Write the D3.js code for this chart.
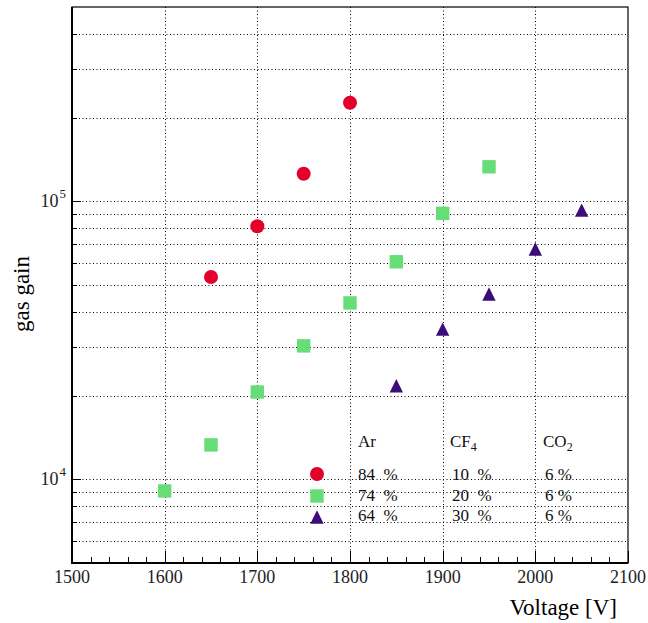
<!DOCTYPE html>
<html>
<head>
<meta charset="utf-8">
<script src="https://cdn.jsdelivr.net/npm/d3@7"></script>
<style>
  body { margin: 0; background: #fff; }
  svg { display: block; font-family: "Liberation Serif", "DejaVu Serif", serif; }
</style>
</head>
<body>
<svg id="chart" width="648" height="623"></svg>
<script>
// data
const arVoltage = [1650, 1700, 1750, 1800];
const arGain = [53400, 81300, 125700, 226200];

const cf20Voltage = [1600, 1650, 1700, 1750, 1800, 1850, 1900, 1950];
const cf20Gain = [9080, 13300, 20600, 30200, 43100, 60600, 90500, 133100];

const cf30Voltage = [1850, 1900, 1950, 2000, 2050];
const cf30Gain = [21700, 34700, 46400, 67400, 93000];

const legendHeaders = ["Ar", "CF", "CO"];
const legendSubs = ["", "4", "2"];
const legendRows = [
  ["84  %", "10  %", "6 %"],
  ["74  %", "20  %", "6 %"],
  ["64  %", "30  %", "6 %"],
];

const xTicks = [1500, 1600, 1700, 1800, 1900, 2000, 2100];
const yLabelTicks = [1e4, 1e5];
const yLabelExp = ["4", "5"];

const colors = { red: "#e3002b", green: "#66dd77", purple: "#3d0c79" };

const svg = d3.select("#chart");
const margins = { top: 7, right: 20, bottom: 60, left: 72 };
const width = 648, height = 623;

const x = d3.scaleLinear()
  .domain([1500, 2100])
  .range([margins.left, width - margins.right]);

const y = d3.scaleLog()
  .domain([5000, 500000])
  .range([height - margins.bottom, margins.top]);

// minor log values inside the frame
const yGrid = [];
for (let p = 3; p <= 5; p++) {
  for (let m = 1; m <= 9; m++) {
    const v = m * Math.pow(10, p);
    if (v > 5000 && v < 500000) yGrid.push(v);
  }
}
const xMinor = d3.range(1500, 2101, 20);

const grid = svg.append("g")
  .attr("stroke", "#000")
  .attr("stroke-width", 1)
  .attr("stroke-dasharray", "1,2.5");

grid.selectAll(".hgrid")
  .data(yGrid)
  .enter()
  .append("line")
  .attr("x1", x(1500))
  .attr("x2", x(2100))
  .attr("y1", (d) => Math.round(y(d)) + 0.5)
  .attr("y2", (d) => Math.round(y(d)) + 0.5);

grid.selectAll(".vgrid")
  .data(xTicks.slice(1, -1))
  .enter()
  .append("line")
  .attr("x1", (d) => Math.round(x(d)) + 0.5)
  .attr("x2", (d) => Math.round(x(d)) + 0.5)
  .attr("y1", y(500000))
  .attr("y2", y(5000));

// ticks
const ticks = svg.append("g").attr("stroke", "#000").attr("stroke-width", 1);
ticks.selectAll(".xt")
  .data(xMinor)
  .enter()
  .append("line")
  .attr("x1", (d) => Math.round(x(d)) + 0.5)
  .attr("x2", (d) => Math.round(x(d)) + 0.5)
  .attr("y1", y(5000))
  .attr("y2", (d) => y(5000) - (d % 100 === 0 ? 12 : 6));

ticks.selectAll(".yt")
  .data(yGrid)
  .enter()
  .append("line")
  .attr("x1", x(1500))
  .attr("x2", (d) => x(1500) + (yLabelTicks.includes(d) ? 9 : 5))
  .attr("y1", (d) => Math.round(y(d)) + 0.5)
  .attr("y2", (d) => Math.round(y(d)) + 0.5);

// frame
svg.append("rect")
  .attr("x", x(1500))
  .attr("y", y(500000))
  .attr("width", x(2100) - x(1500))
  .attr("height", y(5000) - y(500000))
  .attr("fill", "none")
  .attr("stroke", "#000")
  .attr("stroke-width", 1.2);
svg.append("line")
  .attr("x1", x(1500)).attr("x2", x(1500))
  .attr("y1", y(500000)).attr("y2", y(5000) + 1)
  .attr("stroke", "#000").attr("stroke-width", 2);
svg.append("line")
  .attr("x1", x(1500) - 1).attr("x2", x(2100))
  .attr("y1", y(5000)).attr("y2", y(5000))
  .attr("stroke", "#000").attr("stroke-width", 2);

// tick labels
svg.selectAll(".xl")
  .data(xTicks)
  .enter()
  .append("text")
  .attr("x", (d) => x(d))
  .attr("y", y(5000) + 20)
  .attr("text-anchor", "middle")
  .attr("font-size", 18)
  .attr("fill", "#222")
  .text((d) => d);

const yl = svg.selectAll(".yl")
  .data(yLabelTicks)
  .enter()
  .append("text")
  .attr("x", x(1500) - 6)
  .attr("y", (d) => y(d) + 6)
  .attr("text-anchor", "end")
  .attr("font-size", 18)
  .attr("fill", "#222");
yl.append("tspan").text("10");
yl.append("tspan")
  .attr("font-size", 13)
  .attr("dy", -9)
  .attr("dx", 1)
  .text((d, i) => yLabelExp[i]);

// axis titles
svg.append("text")
  .attr("x", x(2100) - 11)
  .attr("y", 615)
  .attr("text-anchor", "end")
  .attr("font-size", 23)
  .text("Voltage [V]");

svg.append("text")
  .attr("transform", "translate(29,294) rotate(-90)")
  .attr("text-anchor", "middle")
  .attr("font-size", 23)
  .text("gas gain");

// markers
const tri = (s) => `M0,${-s / 2}L${s / 2},${s / 2}L${-s / 2},${s / 2}Z`;

svg.selectAll(".ar")
  .data(arVoltage)
  .enter()
  .append("circle")
  .attr("cx", (d) => x(d))
  .attr("cy", (d, i) => y(arGain[i]))
  .attr("r", 7)
  .attr("fill", colors.red);

svg.selectAll(".cf20")
  .data(cf20Voltage)
  .enter()
  .append("rect")
  .attr("x", (d) => x(d) - 6.7)
  .attr("y", (d, i) => y(cf20Gain[i]) - 6.7)
  .attr("width", 13.4)
  .attr("height", 13.4)
  .attr("fill", colors.green);

svg.selectAll(".cf30")
  .data(cf30Voltage)
  .enter()
  .append("path")
  .attr("transform", (d, i) => `translate(${x(d)},${y(cf30Gain[i])})`)
  .attr("d", tri(13.4))
  .attr("fill", colors.purple);

// legend
const colX = [358, 450, 543];
const rowY = [480, 501, 521];
const legend = svg.append("g").attr("font-size", 17).attr("fill", "#111");

const head = legend.selectAll(".lh")
  .data(legendHeaders)
  .enter()
  .append("text")
  .attr("x", (d, i) => colX[i])
  .attr("y", 447);
head.append("tspan").text((d) => d);
head.append("tspan")
  .attr("font-size", 12)
  .attr("dy", 4)
  .text((d, i) => legendSubs[i]);

legendRows.forEach((row, r) => {
  legend.selectAll(".lr" + r)
    .data(row)
    .enter()
    .append("text")
    .attr("x", (d, i) => colX[i] + (i === 0 ? 0 : 2))
    .attr("y", rowY[r])
    .attr("xml:space", "preserve")
    .style("white-space", "pre")
    .text((d) => d);
});

legend.append("circle").attr("cx", 317).attr("cy", 474).attr("r", 7).attr("fill", colors.red);
legend.append("rect").attr("x", 310.3).attr("y", 489.3).attr("width", 13.4).attr("height", 13.4).attr("fill", colors.green);
legend.append("path").attr("transform", "translate(317,517)").attr("d", tri(13.4)).attr("fill", colors.purple);
</script>
</body>
</html>
